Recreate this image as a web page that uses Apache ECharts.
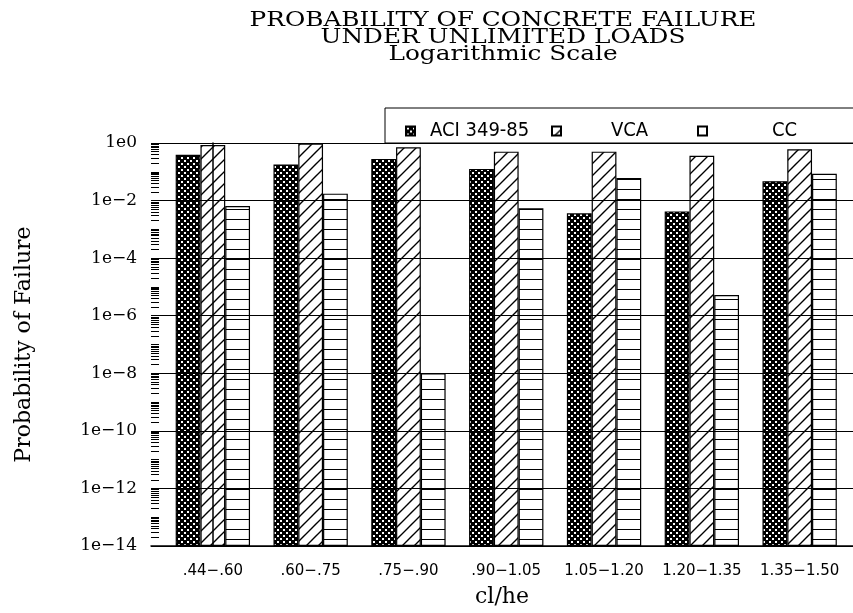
<!DOCTYPE html>
<html>
<head>
<meta charset="utf-8">
<script src="https://cdn.jsdelivr.net/npm/echarts@6/dist/echarts.min.js"></script>
<style>
  html, body { margin: 0; padding: 0; background: #fff; }
  #chart { width: 853px; height: 613px; }
</style>
</head>
<body>
<div id="chart"></div>
<script>
// cl/he ranges
const categories = ['.44\u2212.60', '.60\u2212.75', '.75\u2212.90', '.90\u22121.05', '1.05\u22121.20', '1.20\u22121.35', '1.35\u22121.50'];
// probability of failure per method
const aciValues = [0.39, 0.18, 0.28, 0.126, 0.0036, 0.0042, 0.047];
const vcaValues = [0.85, 0.95, 0.71, 0.50, 0.50, 0.36, 0.61];
const ccValues  = [0.0065, 0.0174, 1.0e-8, 0.0054, 0.061, 5.2e-6, 0.085];
// labelled decades on the probability axis
const yExponents = [-14, -12, -10, -8, -6, -4, -2, 0];
const yTickLabels = ['1e\u221214', '1e\u221212', '1e\u221210', '1e\u22128', '1e\u22126', '1e\u22124', '1e\u22122', '1e0'];
const seriesNames = ['ACI 349-85', 'VCA', 'CC'];
const titleLines = ['PROBABILITY OF CONCRETE FAILURE', 'UNDER UNLIMITED LOADS', 'Logarithmic Scale'];

// fill textures for the three methods
function makePattern(w, h, draw) {
  const c = document.createElement('canvas');
  c.width = w; c.height = h;
  const ctx = c.getContext('2d');
  draw(ctx, w, h);
  return { image: c, repeat: 'repeat' };
}
const dotFill = makePattern(6, 6, (ctx, w, h) => {
  ctx.fillStyle = '#000'; ctx.fillRect(0, 0, w, h);
  ctx.fillStyle = '#fff';
  ctx.fillRect(1, 1, 2, 2);
  ctx.fillRect(4, 4, 2, 2);
});
const diagFill = makePattern(12, 12, (ctx, w, h) => {
  ctx.fillStyle = '#fff'; ctx.fillRect(0, 0, w, h);
  ctx.strokeStyle = '#000'; ctx.lineWidth = 1.4;
  ctx.beginPath();
  ctx.moveTo(-2, h + 2); ctx.lineTo(w + 2, -2);
  ctx.moveTo(-2, 2); ctx.lineTo(2, -2);
  ctx.moveTo(w - 2, h + 2); ctx.lineTo(w + 2, h - 2);
  ctx.stroke();
});
const lineFill = makePattern(10, 10, (ctx, w, h) => {
  ctx.fillStyle = '#fff'; ctx.fillRect(0, 0, w, h);
  ctx.fillStyle = '#000'; ctx.fillRect(0, 9, w, 1);
});

// minor log ticks: 1..9 times every decade
const minorTickValues = [];
for (let e = -14; e <= 0; e++) {
  for (let k = 1; k <= 9; k++) {
    const v = k * Math.pow(10, e);
    if (v <= 1) minorTickValues.push(v);
  }
}

const serif = "'DejaVu Serif', 'Liberation Serif', serif";
const narrow = "'DejaVu Sans Condensed', 'Liberation Sans Narrow', sans-serif";

const chart = echarts.init(document.getElementById('chart'), null, { renderer: 'canvas' });

function barSeries(name, values, fill) {
  return {
    name: name,
    type: 'bar',
    data: values.map((v, i) => [i, v]),
    barGap: 0,
    barCategoryGap: '24%',
    itemStyle: { color: fill, borderColor: '#000', borderWidth: 1.2 },
    emphasis: { disabled: true },
    z: 1
  };
}

function legendFor(name, x, textPad) {
  return {
    data: [{ name: name, icon: 'rect' }],
    left: x,
    top: 121,
    padding: 0,
    itemWidth: 9,
    itemHeight: 9,
    selectedMode: false,
    textStyle: {
      fontFamily: narrow, fontSize: 20, color: '#000',
      padding: [0, 0, 0, textPad]
    }
  };
}

const logAxisBase = {
  type: 'log',
  logBase: 10,
  min: 1e-14,
  max: 1,
  position: 'left',
  offset: 0
};

chart.setOption({
  animation: false,
  backgroundColor: '#fff',
  legend: [
    legendFor(seriesNames[0], 405, 10),
    legendFor(seriesNames[1], 551, 45),
    legendFor(seriesNames[2], 697, 60)
  ],
  graphic: [
    {
      type: 'text',
      x: 503,
      y: 12,
      scaleX: 1.18,
      silent: true,
      style: {
        text: titleLines.join('\n'),
        font: "21px 'DejaVu Serif', serif",
        fill: '#000',
        align: 'center',
        verticalAlign: 'top',
        lineHeight: 17
      }
    },
    {
      type: 'rect',
      shape: { x: 385, y: 108, width: 480, height: 35 },
      style: { fill: null, stroke: '#000', lineWidth: 1 },
      silent: true
    }
  ],
  grid: { left: 151, top: 143, right: 0, bottom: 62, containLabel: false },
  xAxis: {
    type: 'value',
    min: -0.6324,
    max: 6.5455,
    z: 10,
    name: 'cl/he',
    nameLocation: 'middle',
    nameGap: 40,
    nameTextStyle: { fontFamily: serif, fontSize: 22, color: '#000' },
    axisLine: { show: true, lineStyle: { color: '#000', width: 1.5 } },
    axisTick: { show: false },
    splitLine: { show: false },
    axisLabel: {
      customValues: categories.map((c, i) => i),
      formatter: v => categories[Math.round(v)],
      margin: 18,
      fontFamily: "'DejaVu Sans', sans-serif",
      fontSize: 15,
      color: '#000'
    }
  },
  yAxis: [
    Object.assign({}, logAxisBase, {
      startValue: 1e-14,
      interval: 2,
      z: 10,
      name: 'Probability of Failure',
      nameLocation: 'middle',
      nameGap: 116,
      nameTextStyle: { fontFamily: serif, fontSize: 22, color: '#000' },
      axisLine: { show: true, lineStyle: { color: '#000', width: 1.5 } },
      axisTick: { show: false },
      minorTick: { show: false },
      splitLine: { show: true, lineStyle: { color: '#000', width: 1 } },
      axisLabel: {
        margin: 14,
        fontFamily: serif,
        fontSize: 17,
        color: '#000',
        formatter: v => {
          const idx = yExponents.indexOf(Math.round(Math.log10(v)));
          return idx >= 0 ? yTickLabels[idx] : '';
        }
      }
    }),
    // tick strip along the inside of the left frame
    Object.assign({}, logAxisBase, {
      z: 10,
      axisLine: { show: false },
      axisTick: {
        show: true, inside: true, length: 8,
        customValues: minorTickValues,
        lineStyle: { color: '#000', width: 1 }
      },
      axisLabel: { show: false },
      splitLine: { show: false },
      minorTick: { show: false }
    })
  ],
  series: [
    barSeries(seriesNames[0], aciValues, dotFill),
    barSeries(seriesNames[1], vcaValues, diagFill),
    barSeries(seriesNames[2], ccValues, lineFill)
  ]
});
</script>
</body>
</html>
